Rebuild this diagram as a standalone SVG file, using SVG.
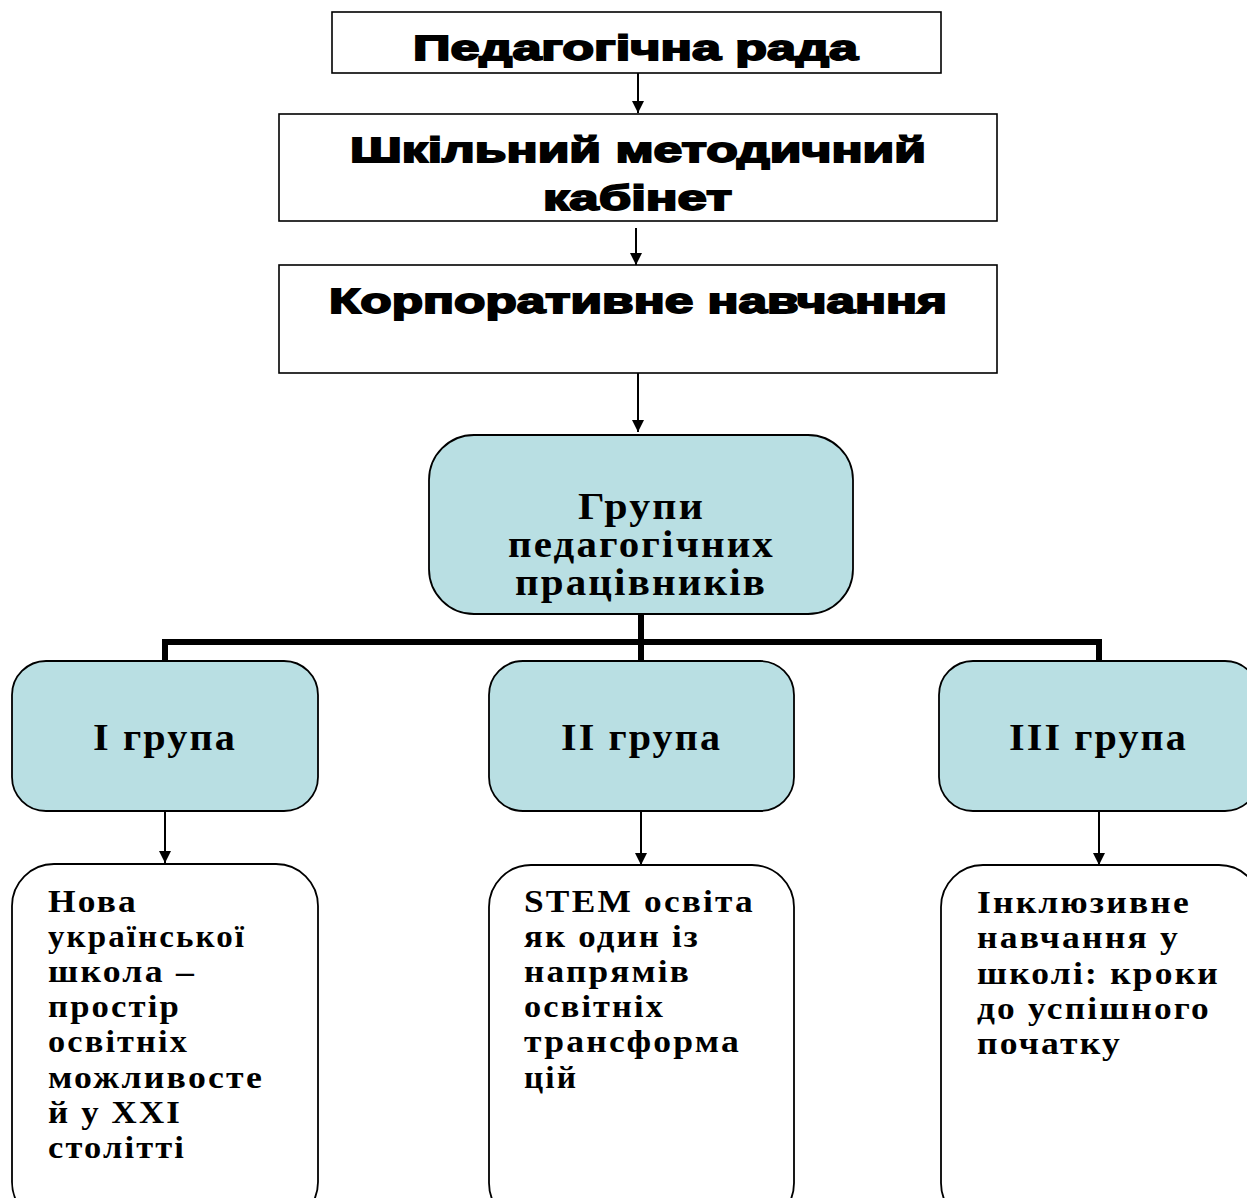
<svg xmlns="http://www.w3.org/2000/svg" width="1247" height="1198" viewBox="0 0 1247 1198">
<style>
.box{fill:#ffffff;stroke:#000;stroke-width:1.6}
.grp{fill:#b9dfe3;stroke:#000;stroke-width:1.8}
.leaf{fill:#ffffff;stroke:#000;stroke-width:1.8}
.hd{font-family:"Liberation Sans",Arial,sans-serif;font-weight:bold;font-size:35px;fill:#000;stroke:#000;stroke-width:1.8}
.sr{font-family:"Liberation Serif","Times New Roman",serif;font-weight:bold;fill:#000;letter-spacing:2px}
.g{font-size:38px}
.t{font-size:32px}
.ln{stroke:#000;stroke-width:2;fill:none}
.thick{stroke:#000;stroke-width:6;fill:none}
</style>
<defs>
<marker id="ah" viewBox="0 0 10 10" refX="10" refY="5" markerWidth="12" markerHeight="12" markerUnits="userSpaceOnUse" orient="auto">
<path d="M0,0 L10,5 L0,10 z" fill="#000"/>
</marker>
</defs>
<rect width="1247" height="1198" fill="#fff"/>
<g id="connectors">
<line class="ln" x1="638" y1="73" x2="638" y2="113" marker-end="url(#ah)"/>
<line class="ln" x1="636" y1="228" x2="636" y2="265" marker-end="url(#ah)"/>
<line class="ln" x1="638" y1="373" x2="638" y2="432" marker-end="url(#ah)"/>
<path class="thick" d="M641,614 V661 M165,661 V642 H1099 V661"/>
<line class="ln" x1="165" y1="811" x2="165" y2="863" marker-end="url(#ah)"/>
<line class="ln" x1="641" y1="811" x2="641" y2="865" marker-end="url(#ah)"/>
<line class="ln" x1="1099" y1="811" x2="1099" y2="865" marker-end="url(#ah)"/>
</g>
<g id="node-rada">
<rect class="box" x="332" y="12" width="609" height="61"/>
<text class="hd" x="413" y="60" textLength="445" lengthAdjust="spacingAndGlyphs">Педагогічна рада</text>
</g>
<g id="node-kabinet">
<rect class="box" x="279" y="114" width="718" height="107"/>
<text class="hd" x="350" y="162" textLength="576" lengthAdjust="spacingAndGlyphs">Шкільний методичний</text>
<text class="hd" x="543" y="210" textLength="189" lengthAdjust="spacingAndGlyphs">кабінет</text>
</g>
<g id="node-korp">
<rect class="box" x="279" y="265" width="718" height="108"/>
<text class="hd" x="329" y="313" textLength="618" lengthAdjust="spacingAndGlyphs">Корпоративне навчання</text>
</g>
<g id="node-groups">
<rect class="grp" x="429" y="435" width="424" height="179" rx="45" ry="45"/>
<text class="sr g" x="578" y="519" textLength="127" lengthAdjust="spacingAndGlyphs">Групи</text>
<text class="sr g" x="508" y="557" textLength="267" lengthAdjust="spacingAndGlyphs">педагогічних</text>
<text class="sr g" x="515" y="595" textLength="252" lengthAdjust="spacingAndGlyphs">працівників</text>
</g>
<g id="node-g1">
<rect class="grp" x="12" y="661" width="306" height="150" rx="34" ry="34"/>
<text class="sr g" x="93" y="750" textLength="144" lengthAdjust="spacingAndGlyphs">I група</text>
</g>
<g id="node-g2">
<rect class="grp" x="489" y="661" width="305" height="150" rx="34" ry="34"/>
<text class="sr g" x="561" y="750" textLength="161" lengthAdjust="spacingAndGlyphs">II група</text>
</g>
<g id="node-g3">
<rect class="grp" x="939" y="661" width="320" height="150" rx="34" ry="34"/>
<text class="sr g" x="1009" y="750" textLength="179" lengthAdjust="spacingAndGlyphs">III група</text>
</g>
<g id="node-t1">
<rect class="leaf" x="12" y="864" width="306" height="360" rx="42" ry="42"/>
<text class="sr t" x="48" y="912" textLength="90" lengthAdjust="spacingAndGlyphs">Нова</text>
<text class="sr t" x="48" y="947" textLength="198" lengthAdjust="spacingAndGlyphs">української</text>
<text class="sr t" x="48" y="982" textLength="148" lengthAdjust="spacingAndGlyphs">школа –</text>
<text class="sr t" x="48" y="1017" textLength="133" lengthAdjust="spacingAndGlyphs">простір</text>
<text class="sr t" x="48" y="1052" textLength="141" lengthAdjust="spacingAndGlyphs">освітніх</text>
<text class="sr t" x="48" y="1088" textLength="216" lengthAdjust="spacingAndGlyphs">можливосте</text>
<text class="sr t" x="48" y="1123" textLength="134" lengthAdjust="spacingAndGlyphs">й у XXI</text>
<text class="sr t" x="48" y="1158" textLength="138" lengthAdjust="spacingAndGlyphs">столітті</text>
</g>
<g id="node-t2">
<rect class="leaf" x="489" y="865" width="305" height="360" rx="42" ry="42"/>
<text class="sr t" x="524" y="912" textLength="231" lengthAdjust="spacingAndGlyphs">STEM освіта</text>
<text class="sr t" x="524" y="947" textLength="176" lengthAdjust="spacingAndGlyphs">як один із</text>
<text class="sr t" x="524" y="982" textLength="167" lengthAdjust="spacingAndGlyphs">напрямів</text>
<text class="sr t" x="524" y="1017" textLength="141" lengthAdjust="spacingAndGlyphs">освітніх</text>
<text class="sr t" x="524" y="1052" textLength="217" lengthAdjust="spacingAndGlyphs">трансформа</text>
<text class="sr t" x="524" y="1088" textLength="54" lengthAdjust="spacingAndGlyphs">цій</text>
</g>
<g id="node-t3">
<rect class="leaf" x="941" y="865" width="320" height="360" rx="42" ry="42"/>
<text class="sr t" x="977" y="913" textLength="214" lengthAdjust="spacingAndGlyphs">Інклюзивне</text>
<text class="sr t" x="977" y="948" textLength="203" lengthAdjust="spacingAndGlyphs">навчання у</text>
<text class="sr t" x="977" y="984" textLength="243" lengthAdjust="spacingAndGlyphs">школі: кроки</text>
<text class="sr t" x="977" y="1019" textLength="234" lengthAdjust="spacingAndGlyphs">до успішного</text>
<text class="sr t" x="977" y="1054" textLength="145" lengthAdjust="spacingAndGlyphs">початку</text>
</g>
</svg>
